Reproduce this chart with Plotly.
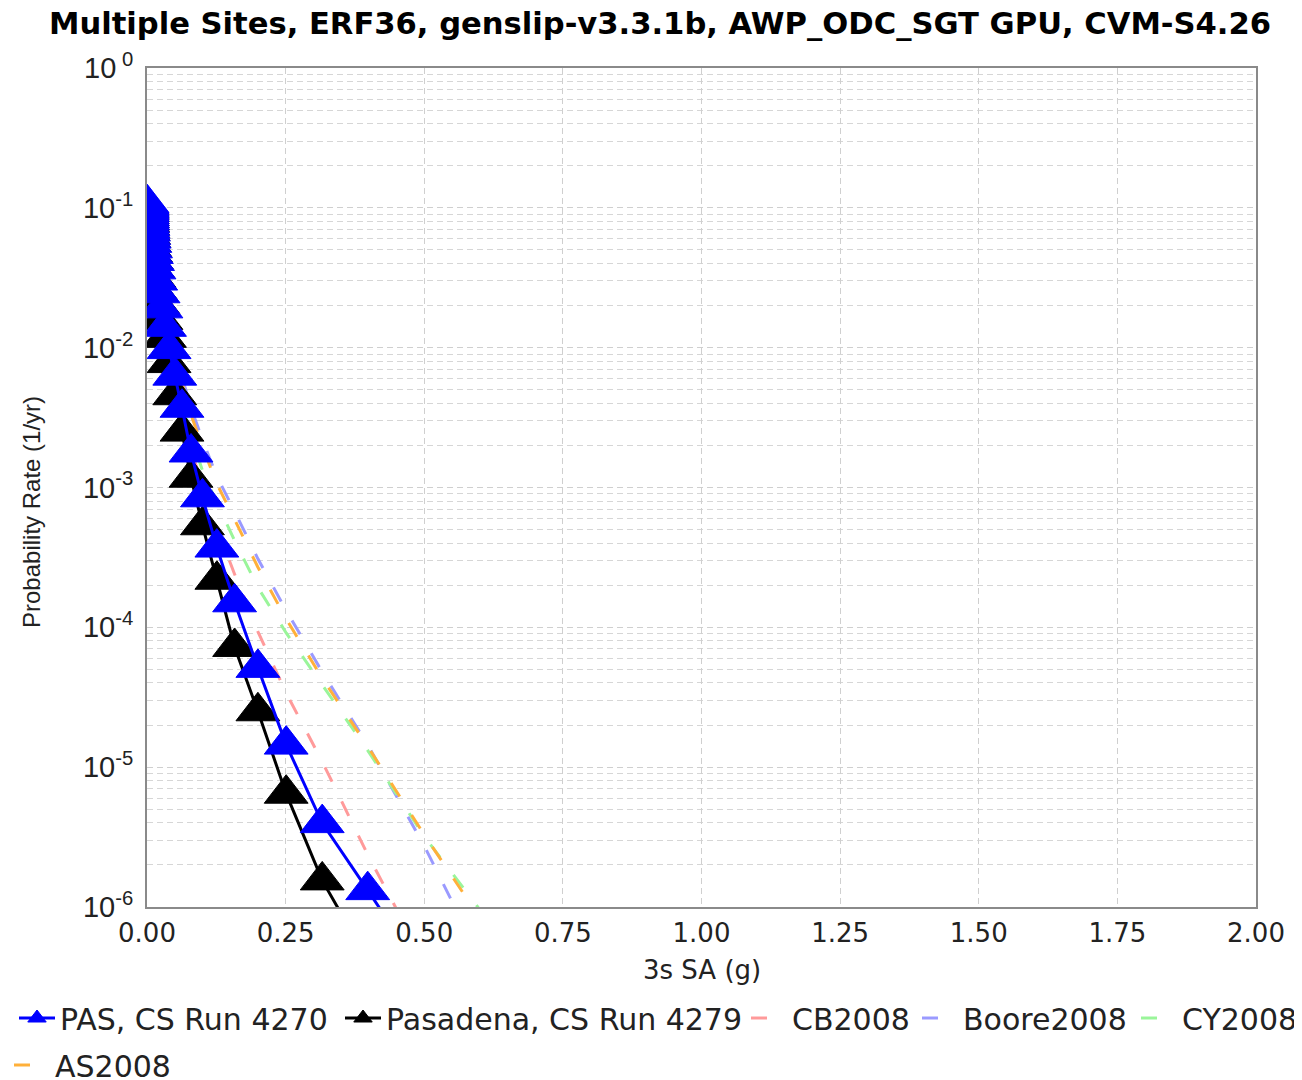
import plotly.graph_objects as go

# Intensity measure levels (3s SA, g)
iml = [0.0001, 0.00013, 0.00016, 0.0002, 0.00025, 0.00032, 0.0004, 0.0005, 0.00063, 0.00079,
       0.001, 0.00126, 0.00158, 0.002, 0.00251, 0.00316, 0.00398, 0.00501, 0.00631, 0.00794,
       0.01, 0.0126, 0.0158, 0.02, 0.0251, 0.0316, 0.0398, 0.0501, 0.0631, 0.0794,
       0.1, 0.126, 0.158, 0.2, 0.251, 0.316, 0.398, 0.501, 0.631]

# CyberShake curves (annual rate)
pas_4270 = [0.1081, 0.1059, 0.1035, 0.1012, 0.0989, 0.0966, 0.0933, 0.0902, 0.0871, 0.0841,
            0.0813, 0.0776, 0.0741, 0.0708, 0.0676, 0.0638, 0.0603, 0.0562, 0.0513, 0.0468,
            0.0417, 0.0363, 0.0302, 0.0245, 0.0191, 0.0141, 0.00977, 0.00631, 0.00372, 0.00178,
            8.51e-4, 3.72e-4, 1.51e-4, 5.13e-5, 1.45e-5, 3.98e-6, 1.32e-6, 3.2e-7]
pasadena_4279 = [0.1047, 0.1023, 0.1, 0.0977, 0.0955, 0.0933, 0.0902, 0.0871, 0.0841, 0.0813,
                 0.0785, 0.0750, 0.0716, 0.0684, 0.0646, 0.0610, 0.0569, 0.0525, 0.0479, 0.0427,
                 0.0372, 0.0316, 0.0257, 0.0204, 0.0158, 0.01175, 0.00776, 0.00457, 0.00251, 0.001175,
                 5.37e-4, 2.19e-4, 7.24e-5, 2.51e-5, 6.46e-6, 1.55e-6, 4.17e-7, 1.0e-7]

# GMPE curves (annual rate)
cb2008 = [0.1318, 0.1303, 0.1288, 0.1274, 0.126, 0.1245, 0.1230, 0.1216, 0.1202, 0.1189,
          0.1175, 0.1148, 0.1122, 0.1084, 0.1035, 0.0977, 0.0912, 0.0832, 0.0741, 0.0646,
          0.0550, 0.0447, 0.0355, 0.0269, 0.0195, 0.0135, 0.00891, 0.00562, 0.00339, 0.00191,
          0.001, 5.13e-4, 2.40e-4, 9.33e-5, 3.39e-5, 1.096e-5, 2.37e-6, 4.0e-7, 5.0e-8]
boore2008 = [0.1288, 0.1274, 0.126, 0.1245, 0.1230, 0.1216, 0.1202, 0.1189, 0.1175, 0.1161,
             0.1148, 0.1122, 0.1096, 0.1072, 0.1035, 0.1, 0.0955, 0.0902, 0.0841, 0.0767,
             0.0684, 0.0589, 0.0490, 0.0389, 0.0295, 0.0214, 0.0148, 0.00977, 0.00617, 0.00372,
             0.00219, 0.00120, 6.76e-4, 3.09e-4, 1.318e-4, 4.79e-5, 1.445e-5, 2.69e-6, 2.5e-7]
cy2008 = [0.126, 0.1245, 0.1230, 0.1216, 0.1202, 0.1189, 0.1175, 0.1161, 0.1148, 0.1135,
          0.1122, 0.1096, 0.1072, 0.1047, 0.1012, 0.0966, 0.0923, 0.0861, 0.0794, 0.0708,
          0.0617, 0.0513, 0.0417, 0.0324, 0.0240, 0.0170, 0.0112, 0.00708, 0.00417, 0.00234,
          0.00132, 7.76e-4, 4.17e-4, 1.93e-4, 9.12e-5, 3.89e-5, 1.32e-5, 3.16e-6, 6.6e-7]
as2008 = [0.126, 0.1245, 0.1230, 0.1216, 0.1202, 0.1189, 0.1175, 0.1161, 0.1148, 0.1135,
          0.1122, 0.1096, 0.1072, 0.1047, 0.1012, 0.0977, 0.0933, 0.0881, 0.0822, 0.0750,
          0.0668, 0.0575, 0.0479, 0.0380, 0.0288, 0.0209, 0.0141, 0.00912, 0.00562, 0.00331,
          0.00195, 0.001064, 5.90e-4, 2.69e-4, 1.148e-4, 4.32e-5, 1.406e-5, 3.24e-6, 5.5e-7]

x_ticks = [0, 0.25, 0.5, 0.75, 1.0, 1.25, 1.5, 1.75, 2.0]
y_tickvals = [1, 1e-1, 1e-2, 1e-3, 1e-4, 1e-5, 1e-6]
y_ticktext = ["10<sup> 0</sup>", "10<sup>-1</sup>", "10<sup>-2</sup>", "10<sup>-3</sup>",
              "10<sup>-4</sup>", "10<sup>-5</sup>", "10<sup>-6</sup>"]

title_text = "Multiple Sites, ERF36, genslip-v3.3.1b, AWP_ODC_SGT GPU, CVM-S4.26"

# The page body adds an 8px margin: lay the figure out in page pixels minus 8.
OFF = 8
W, H = 1302 - OFF, 1080 - OFF
L, T = 147 - OFF, 68 - OFF
pw, ph = 1109, 839
R, B = W - L - pw, H - T - ph


def px_x(page_x):
    return (page_x - OFF - L) / pw


def px_y(page_y):
    return (T + ph - (page_y - OFF)) / ph


fig = go.Figure()

dash_pat = "16px,22px"
gmpes = [("CB2008", cb2008, "#ff9a9a", "legend3"),
         ("Boore2008", boore2008, "#9a9aff", "legend4"),
         ("CY2008", cy2008, "#9af59a", "legend5"),
         ("AS2008", as2008, "#ffb03a", "legend6")]
for name, vals, col, lg in gmpes:
    fig.add_trace(go.Scatter(x=iml[:len(vals)], y=vals, mode="lines", name=name,
                             line=dict(color=col, width=3, dash=dash_pat), legend=lg))

fig.add_trace(go.Scatter(x=iml[:len(pasadena_4279)], y=pasadena_4279, mode="lines+markers",
                         name="Pasadena, CS Run 4279",
                         line=dict(color="#000000", width=3),
                         marker=dict(symbol="triangle-up", size=38, color="#000000",
                                     line=dict(width=1, color="#000000")),
                         legend="legend2"))
fig.add_trace(go.Scatter(x=iml[:len(pas_4270)], y=pas_4270, mode="lines+markers",
                         name="PAS, CS Run 4270",
                         line=dict(color="#0000ff", width=3),
                         marker=dict(symbol="triangle-up", size=38, color="#0000ff",
                                     line=dict(width=1, color="#0000ff")),
                         legend="legend"))

ITEMW = 36
TEXTGAP = ITEMW + 10
legend_font = dict(family="DejaVu Sans", size=30, color="#222222")


def legend_at(text_x, centre_y):
    return dict(orientation="h", x=px_x(text_x - TEXTGAP), xanchor="left",
                y=px_y(centre_y), yanchor="middle", font=legend_font,
                bgcolor="rgba(0,0,0,0)", itemwidth=ITEMW, borderwidth=0)


fig.update_layout(
    width=W, height=H,
    margin=dict(l=L, r=R, t=T, b=B, autoexpand=False),
    paper_bgcolor="white", plot_bgcolor="white",
    title=dict(text=title_text, x=(660 - OFF) / W, xanchor="center",
               y=1 - (23 - OFF) / H, yanchor="middle",
               xref="container", yref="container",
               font=dict(family="DejaVu Sans", size=30.6, color="#000000", weight="bold")),
    showlegend=True,
    legend=legend_at(60, 1018),
    legend2=legend_at(386, 1018),
    legend3=legend_at(792, 1018),
    legend4=legend_at(963, 1018),
    legend5=legend_at(1182, 1018),
    legend6=legend_at(55, 1065),
    xaxis=dict(range=[0, 2], tickvals=x_ticks, tickformat=".2f",
               showgrid=True, gridcolor="#cfcfcf", griddash="6px,4px", gridwidth=1,
               zeroline=False, showline=True, linecolor="#8a8a8a", linewidth=2, mirror=True,
               ticks="", ticklabelstandoff=2,
               tickfont=dict(family="DejaVu Sans", size=26, color="#222222")),
    yaxis=dict(type="log", range=[-6, 0], tickvals=y_tickvals, ticktext=y_ticktext,
               showgrid=True, gridcolor="#cfcfcf", griddash="6px,4px", gridwidth=1,
               minor=dict(showgrid=True, gridcolor="#d6d6d6", griddash="6px,4px", dtick="D1",
                          ticks=""),
               zeroline=False, showline=True, linecolor="#8a8a8a", linewidth=2, mirror=True,
               ticks="", ticklabelstandoff=6,
               tickfont=dict(family="Liberation Sans", size=29, color="#222222")),
    annotations=[
        dict(text="3s SA (g)", xref="paper", yref="paper", x=px_x(702), y=px_y(970),
             xanchor="center", yanchor="middle", showarrow=False,
             font=dict(family="DejaVu Sans", size=26, color="#222222")),
        dict(text="Probability Rate (1/yr)", xref="paper", yref="paper",
             x=px_x(31), y=px_y(512), textangle=-90,
             xanchor="center", yanchor="middle", showarrow=False,
             font=dict(family="Liberation Sans", size=24, color="#222222")),
    ],
)

fig.write_html("out.html")
